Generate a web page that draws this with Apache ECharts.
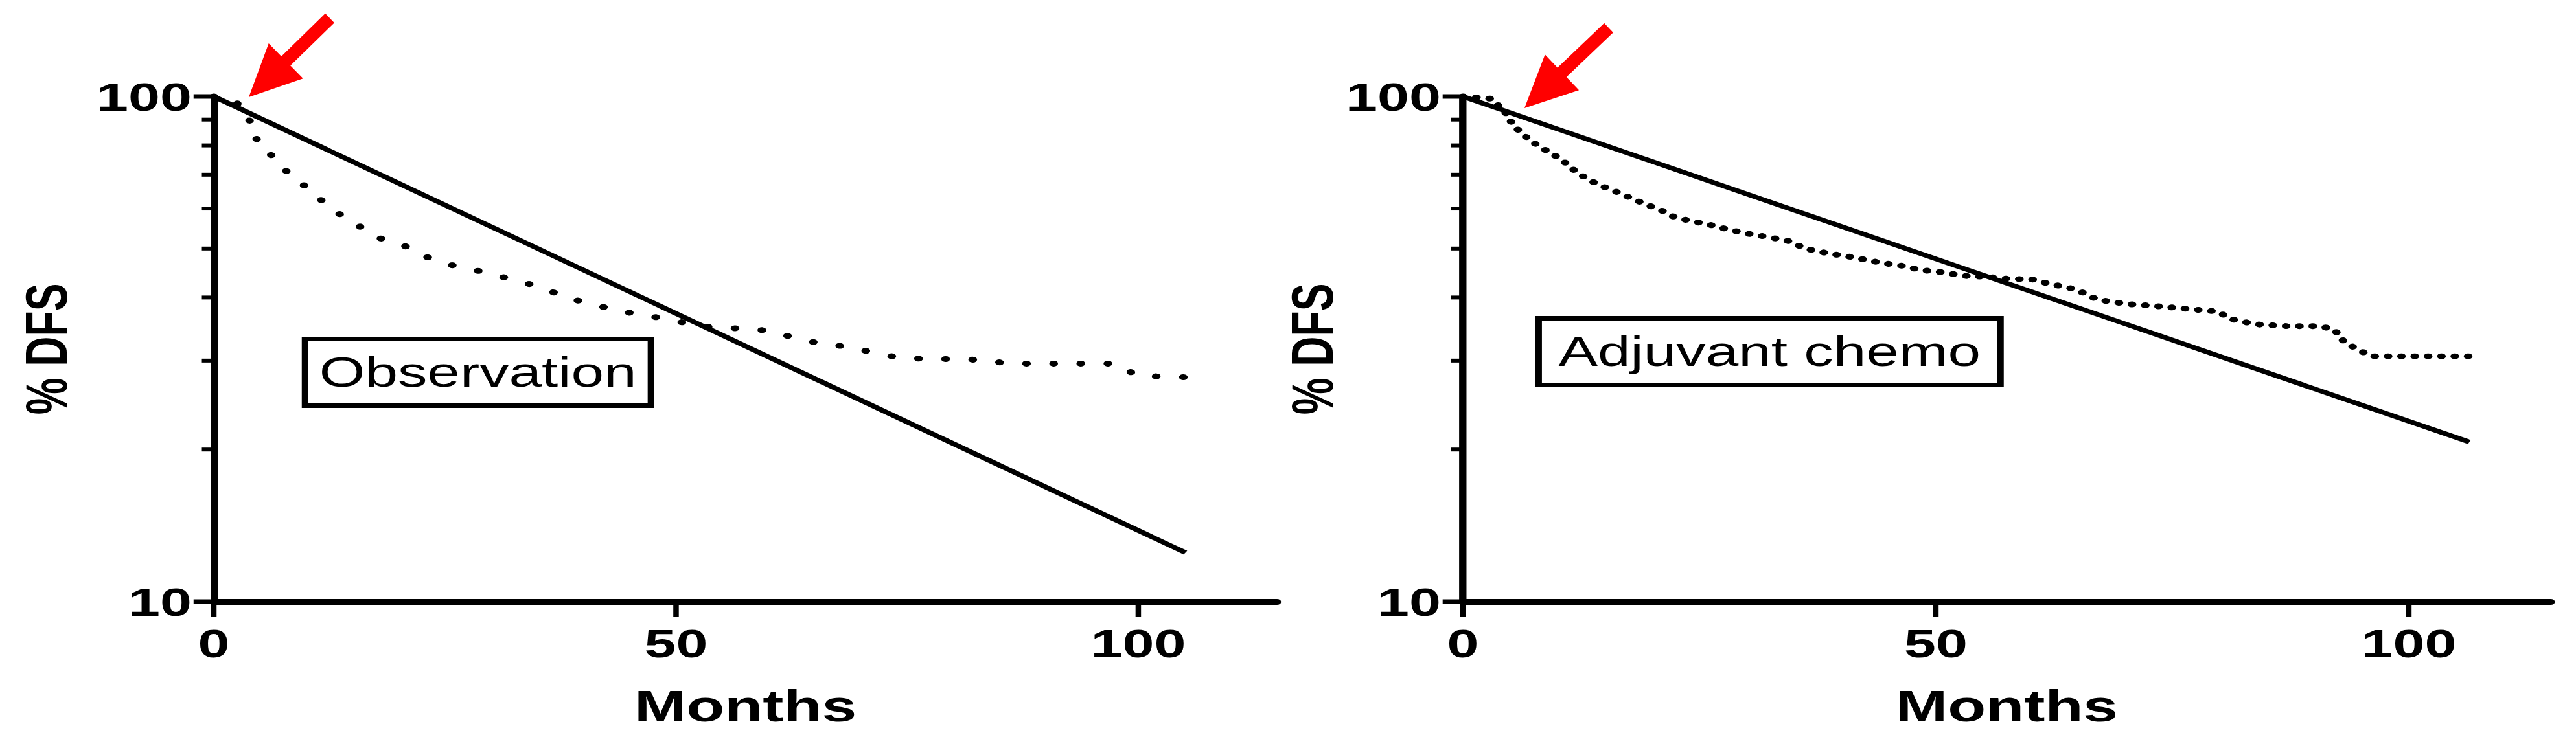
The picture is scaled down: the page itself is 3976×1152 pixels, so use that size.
<!DOCTYPE html>
<html>
<head>
<meta charset="utf-8">
<title>DFS: observation vs adjuvant chemo</title>
<script src="https://cdn.jsdelivr.net/npm/echarts@6.0.0/dist/echarts.min.js"></script>
<style>
  html, body { margin: 0; padding: 0; background: #fff; overflow: hidden; }
  /* the source figure is stretched sideways, so draw narrow and widen the box */
  #chart { width: 2800px; height: 1152px; transform: scaleX(1.42); transform-origin: 0 0; }
</style>
</head>
<body>
<div id="chart"></div>
<script>
var S = 1.42;
var FONT = '"Liberation Sans", Arial, Helvetica, sans-serif';

// observation arm (dotted KM curve) and its exponential fit
var obsMonths = [0, 2, 3, 3.9, 4.6, 5.8, 7, 8.4, 10.2, 11.6, 13.4, 15.4, 17.5, 20.3, 22.5, 25.1, 27.7, 30.4,
                 33.3, 35.6, 38.5, 41, 43.8, 46.6, 49.5, 52.2, 55.1, 57.7, 60.6, 63.2, 66.1, 69.1, 71, 74.5,
                 80, 83, 85.9, 97.5, 99.9, 105.4];
var obsDFS    = [100, 99, 95, 89.4, 82.5, 78, 73.8, 69.5, 65.8, 62.4, 58.8, 55.9, 52.7, 51, 48.5, 46.6, 45.6, 44.3,
                 43, 41.7, 39.8, 38.8, 37.6, 36.9, 36.1, 35.2, 34.7, 34.8, 34.2, 33.1, 32.3, 31.9, 31.2, 30.3,
                 30.2, 30.1, 29.6, 29.6, 28, 27.8];
var obsFitMonths = [0, 105.1];
var obsFitDFS    = [100, 12.5];

// adjuvant chemo arm
var chemoMonths = [0, 3, 4.5, 5.3, 6, 7.2, 8.4, 9.6, 10.8, 11.7, 12.9, 14.3, 15.7, 17.1, 18.4, 19.8, 21, 22.3,
                   23.7, 25.1, 26.5, 27.9, 29.3, 30.6, 32, 33.4, 34.7, 36.1, 37.5, 38.8, 40.3, 41.6, 43, 44.4,
                   45.8, 46.9, 48.3, 49.7, 51, 52.4, 53.8, 55.2, 57.3, 60.3, 61.5, 64.8, 67.1, 70.4, 73.8, 77.1,
                   79.9, 81, 83.8, 87.1, 90.5, 92.1, 93.2, 96, 106.6];
var chemoDFS    = [100, 99, 92.9, 87.8, 85.3, 81.6, 79, 76.7, 74, 71.6, 69.1, 66.9, 65.4, 63.7, 62.2, 60.7, 59.5, 57.8,
                   56.9, 56.2, 55.5, 54.6, 53.9, 53.3, 52.8, 52.2, 51.6, 50, 49.4, 48.8, 48.4, 47.9, 47.3, 46.8,
                   46.4, 46.1, 45.3, 45.1, 44.8, 44.3, 44, 44, 43.6, 43.4, 42.8, 41.5, 39.6, 38.8, 38.4, 37.9,
                   37.5, 36.3, 35.4, 35.1, 35.1, 34.6, 32.6, 30.6, 30.6];
var chemoFitMonths = [0, 106.4];
var chemoFitDFS    = [100, 20.7];

var xTicks = [0, 50, 100];
var yMajor = [10, 100];
var yMinor = [20, 30, 40, 50, 60, 70, 80, 90];
var panelLabels = ['Observation', 'Adjuvant chemo'];

function pairs(xs, ys) {
  return xs.map(function (x, i) { return [x, ys[i]]; });
}

var chart = echarts.init(document.getElementById('chart'), null, { renderer: 'svg' });

function xAxisFor(gi) {
  return {
    type: 'value', gridIndex: gi, min: 0, max: 115,
    name: 'Months', nameLocation: 'middle', nameGap: 127,
    nameTextStyle: { fontSize: 68, fontWeight: 'bold', color: '#000', fontFamily: FONT },
    axisLine: { show: true, lineStyle: { color: '#000', width: 9 } },
    axisTick: { show: false },
    axisLabel: { customValues: xTicks, margin: 33, fontSize: 62, fontWeight: 'bold', color: '#000', fontFamily: FONT },
    splitLine: { show: false }
  };
}

function yAxisFor(gi, gap) {
  return {
    type: 'log', logBase: 10, gridIndex: gi, min: 10, max: 100,
    name: '% DFS', nameLocation: 'middle', nameGap: gap,
    nameTextStyle: { fontSize: 64, fontWeight: 'bold', color: '#000', fontFamily: FONT },
    axisLine: { show: true, lineStyle: { color: '#000', width: 8 } },
    axisTick: { show: false },
    axisLabel: { margin: 24, fontSize: 62, fontWeight: 'bold', color: '#000', fontFamily: FONT },
    splitLine: { show: false }
  };
}

// tick marks drawn through the axes' own scales: dx/dy is the outward direction
function ticks(xi, yi, data, dx, dy, width) {
  return {
    type: 'custom', xAxisIndex: xi, yAxisIndex: yi, data: data, silent: true, clip: false, z: 5,
    renderItem: function (params, api) {
      var p = api.coord([api.value(0), api.value(1)]);
      return { type: 'line', shape: { x1: p[0], y1: p[1], x2: p[0] + dx, y2: p[1] + dy },
               style: { stroke: '#000', lineWidth: width } };
    }
  };
}
function tickSet(xi, yi) {
  return [
    ticks(xi, yi, xTicks.map(function (v) { return [v, 10]; }), 0, 24, 6),
    ticks(xi, yi, yMajor.map(function (v) { return [0, v]; }), -22, 0, 7),
    ticks(xi, yi, yMinor.map(function (v) { return [0, v]; }), -13, 0, 6)
  ];
}

function arrowShape(tail, tip) {
  var dx = tip[0] - tail[0], dy = tip[1] - tail[1], len = Math.hypot(dx, dy);
  var ux = dx / len, uy = dy / len, px = -uy, py = ux;
  var headL = 80, headW = 38, shaftW = 10;
  var bx = tip[0] - ux * headL, by = tip[1] - uy * headL;
  var pts = [
    [tail[0] + px * shaftW, tail[1] + py * shaftW],
    [bx + px * shaftW, by + py * shaftW],
    [bx + px * headW, by + py * headW],
    tip,
    [bx - px * headW, by - py * headW],
    [bx - px * shaftW, by - py * shaftW],
    [tail[0] - px * shaftW, tail[1] - py * shaftW]
  ];
  return pts.map(function (p) { return [p[0] / S, p[1]]; });
}

function solid(xi, yi, data) {
  return { type: 'line', xAxisIndex: xi, yAxisIndex: yi, data: data, showSymbol: false, clip: false,
           lineStyle: { color: '#000', width: 7 } };
}
function dotted(xi, yi, data, gap) {
  return { type: 'line', xAxisIndex: xi, yAxisIndex: yi, data: data, showSymbol: false, clip: false,
           lineStyle: { color: '#000', width: 9, type: [0.5, gap], cap: 'round' } };
}

var option = {
  animation: false,
  backgroundColor: '#fff',
  grid: [
    { left: 232.4, top: 149, width: 1155.6, height: 780 },
    { left: 1590.1, top: 149, width: 1182.4, height: 780 }
  ],
  xAxis: [xAxisFor(0), xAxisFor(1)],
  yAxis: [yAxisFor(0, 150), yAxisFor(1, 110)],
  title: [
    { text: panelLabels[0], left: 331, top: 523, padding: [20, 16], borderColor: '#000', borderWidth: 7,
      textStyle: { fontSize: 64, fontWeight: 'normal', color: '#000', fontFamily: FONT } },
    { text: panelLabels[1], left: 1672, top: 491, padding: [20, 22], borderColor: '#000', borderWidth: 7,
      textStyle: { fontSize: 64, fontWeight: 'normal', color: '#000', fontFamily: FONT } }
  ],
  graphic: [
    { type: 'polygon', shape: { points: arrowShape([509, 28], [384, 150]) }, style: { fill: '#ff0000' } },
    { type: 'polygon', shape: { points: arrowShape([2483, 43], [2353, 167]) }, style: { fill: '#ff0000' } }
  ],
  series: [
    solid(0, 0, pairs(obsFitMonths, obsFitDFS)),
    dotted(0, 0, pairs(obsMonths, obsDFS), 29),
    solid(1, 1, pairs(chemoFitMonths, chemoFitDFS)),
    dotted(1, 1, pairs(chemoMonths, chemoDFS), 14)
  ].concat(tickSet(0, 0), tickSet(1, 1))
};
chart.setOption(option);
</script>
</body>
</html>
